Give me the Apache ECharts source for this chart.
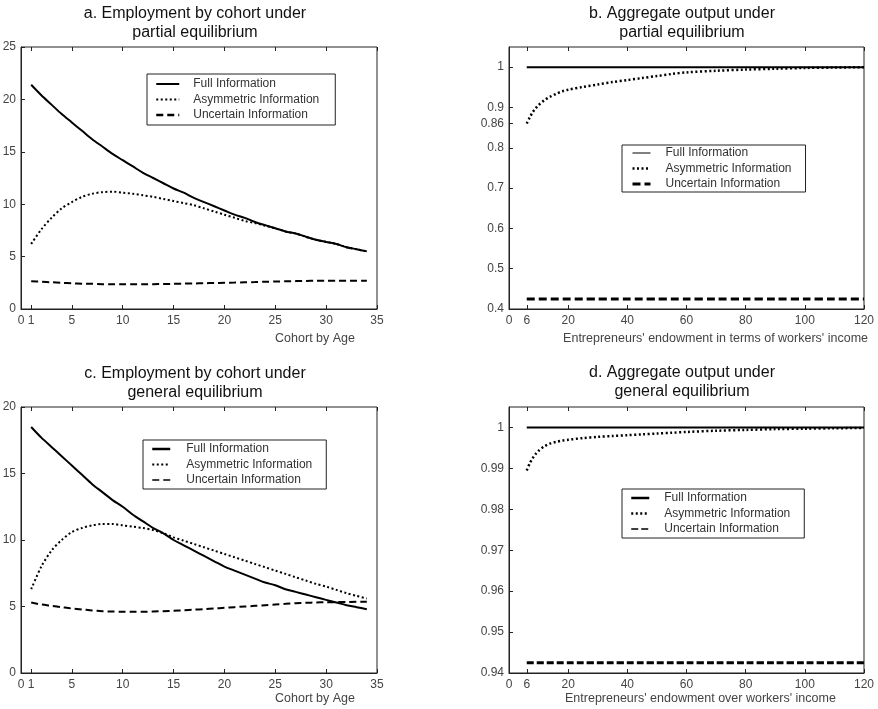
<!DOCTYPE html>
<html><head><meta charset="utf-8">
<script src="https://cdn.jsdelivr.net/npm/echarts@6.0.0/dist/echarts.min.js"></script>
<style>html,body{margin:0;padding:0;background:#fff}#c{width:878px;height:709px}</style>
</head><body><div id="c"></div>
<script>
// ---- data ----
const cohortAges = [1,2,3,4,5,6,7,8,9,10,11,12,13,14,15,16,17,18,19,20,21,22,23,24,25,26,27,28,29,30,31,32,33,34];
const aFull = [21.4,20.4,19.5,18.6,17.8,17.0,16.2,15.5,14.8,14.2,13.6,13.0,12.5,12.0,11.5,11.1,10.6,10.2,9.8,9.4,9.0,8.7,8.3,8.0,7.7,7.4,7.2,6.9,6.6,6.4,6.2,5.9,5.7,5.5];
const aAsym = [6.2,7.6,8.7,9.6,10.2,10.7,11.0,11.15,11.2,11.1,11.0,10.85,10.7,10.5,10.3,10.1,9.9,9.6,9.3,9.0,8.7,8.4,8.2,7.95,7.7,7.4,7.2,6.9,6.6,6.4,6.2,5.9,5.7,5.5];
const aUnc  = [2.65,2.6,2.55,2.5,2.45,2.42,2.4,2.37,2.35,2.35,2.35,2.36,2.37,2.38,2.4,2.42,2.44,2.46,2.48,2.5,2.52,2.55,2.57,2.6,2.62,2.64,2.66,2.68,2.7,2.7,2.7,2.7,2.7,2.7];
const cFull = [18.5,17.7,17.0,16.3,15.6,14.9,14.2,13.6,13.0,12.5,11.9,11.4,10.9,10.5,10.0,9.6,9.2,8.8,8.4,8.0,7.7,7.4,7.1,6.8,6.6,6.3,6.1,5.9,5.7,5.5,5.3,5.1,4.95,4.8];
const cAsym = [6.3,8.0,9.2,10.0,10.6,10.9,11.1,11.2,11.2,11.1,11.0,10.9,10.75,10.5,10.2,9.95,9.7,9.45,9.2,8.95,8.7,8.45,8.2,7.95,7.7,7.45,7.2,6.95,6.7,6.5,6.25,6.0,5.8,5.6];
const cUnc  = [5.3,5.15,5.05,4.95,4.85,4.78,4.7,4.65,4.62,4.6,4.6,4.6,4.62,4.65,4.68,4.72,4.76,4.8,4.85,4.9,4.95,5.0,5.05,5.1,5.15,5.2,5.25,5.28,5.3,5.32,5.33,5.34,5.35,5.35];
const endowment = [6,7,8,9,10,12,14,16,18,20,25,30,35,40,45,50,55,60,70,80,90,100,110,120];
const bFull = [1,1,1,1,1,1,1,1,1,1,1,1,1,1,1,1,1,1,1,1,1,1,1,1];
const bAsym = [0.86,0.875,0.888,0.898,0.906,0.918,0.927,0.934,0.94,0.944,0.951,0.957,0.963,0.968,0.973,0.978,0.983,0.987,0.991,0.994,0.996,0.998,0.999,1.0];
const bUnc  = [0.425,0.425,0.425,0.425,0.425,0.425,0.425,0.425,0.425,0.425,0.425,0.425,0.425,0.425,0.425,0.425,0.425,0.425,0.425,0.425,0.425,0.425,0.425,0.425];
const dFull = [1,1,1,1,1,1,1,1,1,1,1,1,1,1,1,1,1,1,1,1,1,1,1,1];
const dAsym = [0.9895,0.9912,0.9925,0.9935,0.9943,0.9954,0.9961,0.9965,0.9968,0.997,0.9974,0.9977,0.9979,0.9981,0.9983,0.9985,0.9987,0.9989,0.9992,0.9994,0.9996,0.9997,0.9998,0.9999];
const dUnc  = [0.9425,0.9425,0.9425,0.9425,0.9425,0.9425,0.9425,0.9425,0.9425,0.9425,0.9425,0.9425,0.9425,0.9425,0.9425,0.9425,0.9425,0.9425,0.9425,0.9425,0.9425,0.9425,0.9425,0.9425];

const cohortXTicks = [0,1,5,10,15,20,25,30,35];
const aYTicks = [0,5,10,15,20,25];
const cYTicks = [0,5,10,15,20];
const endowXTicks = [0,6,20,40,60,80,100,120];
const bYTicks = [0.4,0.5,0.6,0.7,0.8,0.86,0.9,1];
const dYTicks = [0.94,0.95,0.96,0.97,0.98,0.99,1];

const legendLabels = ['Full Information','Asymmetric Information','Uncertain Information'];
const titles = ['a. Employment by cohort under\npartial equilibrium','b. Aggregate output under\npartial equilibrium',
                'c. Employment by cohort under\ngeneral equilibrium','d. Aggregate output under\ngeneral equilibrium'];
const xNames = ['Cohort by Age',"Entrepreneurs' endowment in terms of workers' income",'Cohort by Age',"Entrepreneurs' endowment over workers' income"];

// ---- chart ----
const FONT = "'Liberation Sans', Arial, sans-serif";
const zip = (xs, ys) => xs.map((x, i) => [x, ys[i]]);
const chart = echarts.init(document.getElementById('c'), null, {renderer: 'canvas'});

const grids = [
  {left: 21, top: 47, width: 356, height: 262},
  {left: 509, top: 47, width: 355, height: 262},
  {left: 21, top: 407, width: 356, height: 266},
  {left: 509, top: 407, width: 355, height: 266}
].map(g => Object.assign(g, {show: true, borderColor: '#222', borderWidth: 1, outerBoundsMode: 'none', containLabel: false}));

const xRanges = [[0,35,cohortXTicks],[0,120,endowXTicks],[0,35,cohortXTicks],[0,120,endowXTicks]];
const yRanges = [[0,25,aYTicks],[0.4,1.05,bYTicks],[0,20,cYTicks],[0.94,1.005,dYTicks]];

const fmt = v => String(v);
const xAxes = [], yAxes = [];
xRanges.forEach((r, i) => {
  xAxes.push({type: 'value', gridIndex: i, min: r[0], max: r[1], position: 'bottom',
    axisLine: {show: true, lineStyle: {color: '#222', width: 1}},
    axisTick: {show: true, inside: true, length: 4, customValues: r[2], lineStyle: {color: '#222'}},
    axisLabel: {show: true, customValues: r[2], formatter: fmt, margin: 6, color: '#444', fontSize: 12, fontFamily: FONT},
    splitLine: {show: false}});
});
xRanges.forEach((r, i) => {
  xAxes.push({type: 'value', gridIndex: i, min: r[0], max: r[1], position: 'top',
    axisLine: {show: false},
    axisTick: {show: true, inside: true, length: 4, customValues: r[2], lineStyle: {color: '#222'}},
    axisLabel: {show: false}, splitLine: {show: false}});
});
yRanges.forEach((r, i) => {
  yAxes.push({type: 'value', gridIndex: i, min: r[0], max: r[1],
    axisLine: {show: true, lineStyle: {color: '#222', width: 1}},
    axisTick: {show: true, inside: true, length: 4, customValues: r[2], lineStyle: {color: '#222'}},
    axisLabel: {show: true, customValues: r[2], formatter: fmt, margin: 5, color: '#444', fontSize: 12, fontFamily: FONT},
    splitLine: {show: false}});
});

const panels = [
  {id: 'a', x: cohortAges, ys: [aFull, aAsym, aUnc], w: [2, 2, 2], t: ['solid', [2, 2.5], [7, 4]], lw: [2, 2, 2.5], smooth: 0.3},
  {id: 'b', x: endowment, ys: [bFull, bAsym, bUnc], w: [2, 2.5, 3], t: ['solid', [2, 2.5], [8, 4]], lw: [1, 2.5, 3], smooth: 0.3},
  {id: 'c', x: cohortAges, ys: [cFull, cAsym, cUnc], w: [2, 2, 2], t: ['solid', [2, 2.5], [7, 4]], lw: [2.5, 2, 1.5], smooth: 0.3},
  {id: 'd', x: endowment, ys: [dFull, dAsym, dUnc], w: [2, 2.5, 3], t: ['solid', [2, 2.5], [7, 3]], lw: [2.5, 2.5, 1.5], smooth: 0.3}
];
const keys = ['full', 'asym', 'unc'];
const nameMap = {};
const series = [];
panels.forEach((p, i) => {
  p.ys.forEach((ys, k) => {
    const nm = p.id + '-' + keys[k];
    nameMap[nm] = legendLabels[k];
    series.push({name: nm, type: 'line', xAxisIndex: i, yAxisIndex: i, data: zip(p.x, ys),
      symbol: 'none', smooth: p.smooth, silent: true, animation: false,
      lineStyle: {color: '#000', width: p.w[k], type: p.t[k]}, itemStyle: {color: '#000'}});
  });
});

const legendPos = [
  {left: 147, top: 74, iw: 23, pad: [4, 16, 4, 8], tp: 9},
  {left: 622, top: 145, iw: 18, pad: [2, 14, 2, 9], tp: 10},
  {left: 143, top: 440, iw: 18, pad: [3, 14, 3, 8], tp: 11},
  {left: 622, top: 489, iw: 18, pad: [3, 14, 3, 8], tp: 10}
];
const legends = panels.map((p, i) => ({
  orient: 'vertical', left: legendPos[i].left, top: legendPos[i].top,
  itemWidth: legendPos[i].iw, itemHeight: 12, itemGap: 3.5,
  padding: legendPos[i].pad, borderColor: '#222', borderWidth: 1, borderRadius: 0, backgroundColor: '#fff',
  selectedMode: false,
  data: keys.map((k, j) => ({name: p.id + '-' + k, lineStyle: {width: p.lw[j], type: p.t[j], color: '#000'}, itemStyle: {opacity: 0}})),
  formatter: n => nameMap[n],
  textStyle: {fontSize: 12, color: '#333', fontFamily: FONT, padding: [0, 0, 0, legendPos[i].tp]}
}));

const titleCenters = [[195, 4], [682, 4], [195, 364], [682, 363]];
const titleComps = titles.map((t, i) => ({
  text: t, left: titleCenters[i][0], top: titleCenters[i][1], textAlign: 'center', padding: 0,
  textStyle: {fontSize: 16, fontWeight: 'normal', color: '#111', fontFamily: FONT, lineHeight: 19}
}));

const graphics = [
  {type: 'text', right: 878 - 355, top: 332, style: {text: xNames[0], fontSize: 12.5, fill: '#444', fontFamily: FONT}},
  {type: 'text', right: 878 - 868, top: 332, style: {text: xNames[1], fontSize: 12.5, fill: '#444', fontFamily: FONT}},
  {type: 'text', right: 878 - 355, top: 692, style: {text: xNames[2], fontSize: 12.5, fill: '#444', fontFamily: FONT}},
  {type: 'text', left: 565, top: 692, style: {text: xNames[3], fontSize: 12.5, fill: '#444', fontFamily: FONT}}
];

chart.setOption({
  animation: false, backgroundColor: '#fff',
  title: titleComps, grid: grids, xAxis: xAxes, yAxis: yAxes, series: series,
  legend: legends, graphic: graphics
});
</script></body></html>
